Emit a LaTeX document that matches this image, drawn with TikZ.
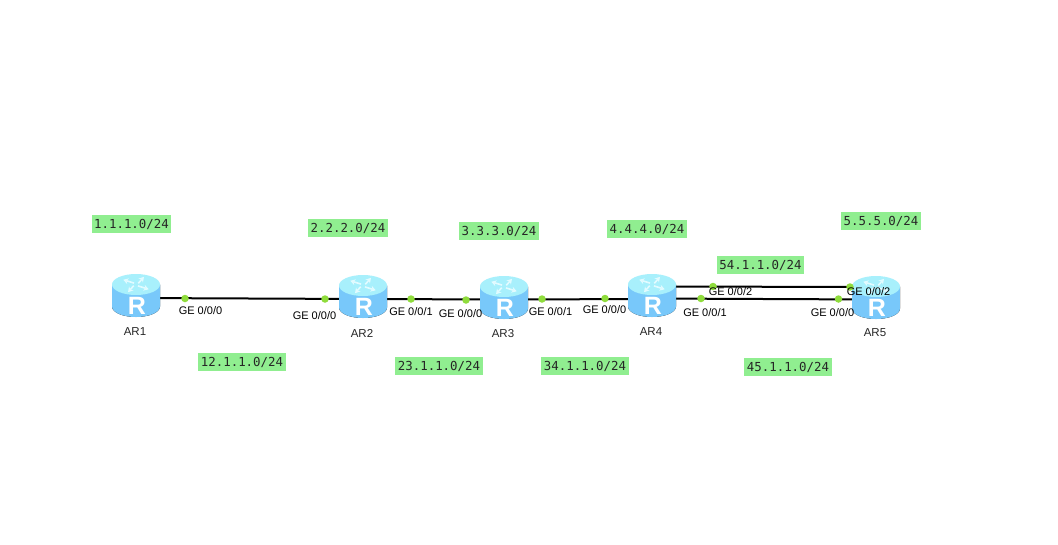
\documentclass[tikz,border=0pt]{standalone}
\usepackage{fontspec}
\setmainfont{Liberation Sans}
\newfontfamily\labelmono{DejaVu Sans Mono}
\usetikzlibrary{arrows.meta}
\definecolor{netgreen}{HTML}{90EE90}
\definecolor{portgreen}{HTML}{8FDC3C}
\definecolor{rtop}{HTML}{A8F0FC}
\definecolor{rside}{HTML}{78C8FA}
\definecolor{rmid}{HTML}{C4F3FF}
\definecolor{ricon}{HTML}{E2FBFF}
\tikzset{
  routerbox/.style={minimum width=48pt,minimum height=43pt,inner sep=0pt,outer sep=0pt},
  link/.style={draw=black,line width=2pt},
  port/.style={circle,fill=portgreen,minimum size=7.5pt,inner sep=0pt},
  iflabel/.style={font=\fontsize{11}{13}\selectfont,inner sep=0pt,text=black},
  rname/.style={font=\fontsize{11.5}{13}\selectfont,inner sep=0pt,text=black!85},
  netlabel/.style={fill=netgreen,font=\labelmono\fontsize{12.4}{14}\selectfont,text=black!85,minimum height=18pt,inner sep=0pt,inner xsep=2.6pt}
}
\newcommand{\routerart}[1]{%
  \begin{scope}[shift={(#1.center)}]
    \fill[left color=rside,middle color=rmid,right color=rside]
      (-24,-11) -- (-24,11) .. controls (-24,17) and (-13,21.5) .. (0,21.5)
      .. controls (13,21.5) and (24,17) .. (24,11) -- (24,-11) -- cycle;
    \fill[rtop] (0,-11) ellipse [x radius=24pt,y radius=10.5pt];
    \begin{scope}[shift={(0,-11)},yscale=0.6]
      \foreach \a in {40,130,220,310}{
        \draw[ricon,line width=1.6pt,-{Stealth[length=5pt,width=6pt]}]
          (\a:3pt) -- (\a+18:15pt);
      }
    \end{scope}
    \node[text=white,inner sep=0pt,font=\bfseries\fontsize{25}{25}\selectfont] at (1,10.5) {R};
  \end{scope}%
}
\begin{document}
\begin{tikzpicture}[x=1pt,y=-1pt]
\useasboundingbox[fill=white] (0,0) rectangle (1058,544);
% routers
\node[routerbox] (ar1) at (136,295.5) {};
\node[routerbox] (ar2) at (363,296.5) {};
\node[routerbox] (ar3) at (504,297.5) {};
\node[routerbox] (ar4) at (652,295.5) {};
\node[routerbox] (ar5) at (876,297.5) {};
% links
\draw[link] ([yshift=-2.5pt]ar1.center) -- ([yshift=-2.5pt]ar2.center);
\draw[link] ([yshift=-2.5pt]ar2.center) -- ([yshift=-2pt]ar3.center);
\draw[link] ([yshift=-2pt]ar3.center) -- ([yshift=-3.5pt]ar4.center);
\coordinate (a4up) at ([yshift=9pt]ar4.center);
\coordinate (a5up) at ([yshift=10.5pt]ar5.center);
\coordinate (a4lo) at ([yshift=-3pt]ar4.center);
\coordinate (a5lo) at ([yshift=-2pt]ar5.center);
\draw[link] (a4up) -- (a5up);
\draw[link] (a4lo) -- (a5lo);
% router drawings
\routerart{ar1}
\routerart{ar2}
\routerart{ar3}
\routerart{ar4}
\routerart{ar5}
% ports
\node[port] (p1) at (185,298.5) {};
\node[port] (p2) at (325,299) {};
\node[port] (p3) at (411,299) {};
\node[port] (p4) at (466,300) {};
\node[port] (p5) at (542,299) {};
\node[port] (p6) at (605,298.5) {};
\node[port] (p7) at (713,286.5) {};
\node[port] (p8) at (701,298.5) {};
\node[port] (p9) at (850,287) {};
\node[port] (p10) at (838.5,299) {};
% interface labels
\node[iflabel] (l1) at (200.5,311) {GE 0/0/0};
\node[iflabel] (l2) at (314.5,316) {GE 0/0/0};
\node[iflabel] (l3) at (411,312) {GE 0/0/1};
\node[iflabel] (l4) at (460.5,314) {GE 0/0/0};
\node[iflabel] (l5) at (550.5,312) {GE 0/0/1};
\node[iflabel] (l6) at (604.5,310) {GE 0/0/0};
\node[iflabel] (l7) at (730.5,292) {GE 0/0/2};
\node[iflabel] (l8) at (705,313) {GE 0/0/1};
\node[iflabel] (l9) at (832.5,313) {GE 0/0/0};
\node[iflabel] (l10) at (868.5,292) {GE 0/0/2};
% router names
\node[rname] (n1) at (135,332) {AR1};
\node[rname] (n2) at (362,333) {AR2};
\node[rname] (n3) at (503,334) {AR3};
\node[rname] (n4) at (651,332) {AR4};
\node[rname] (n5) at (875,333) {AR5};
% network labels
\node[netlabel] (s1) at (131.5,224) {1.1.1.0/24};
\node[netlabel] (s2) at (348,228) {2.2.2.0/24};
\node[netlabel] (s3) at (499,231) {3.3.3.0/24};
\node[netlabel] (s4) at (647,229) {4.4.4.0/24};
\node[netlabel] (s5) at (881,221) {5.5.5.0/24};
\node[netlabel] (s6) at (760.5,265) {54.1.1.0/24};
\node[netlabel] (s7) at (242,362) {12.1.1.0/24};
\node[netlabel] (s8) at (439,366) {23.1.1.0/24};
\node[netlabel] (s9) at (585,366) {34.1.1.0/24};
\node[netlabel] (s10) at (788,367) {45.1.1.0/24};
\end{tikzpicture}
\end{document}
